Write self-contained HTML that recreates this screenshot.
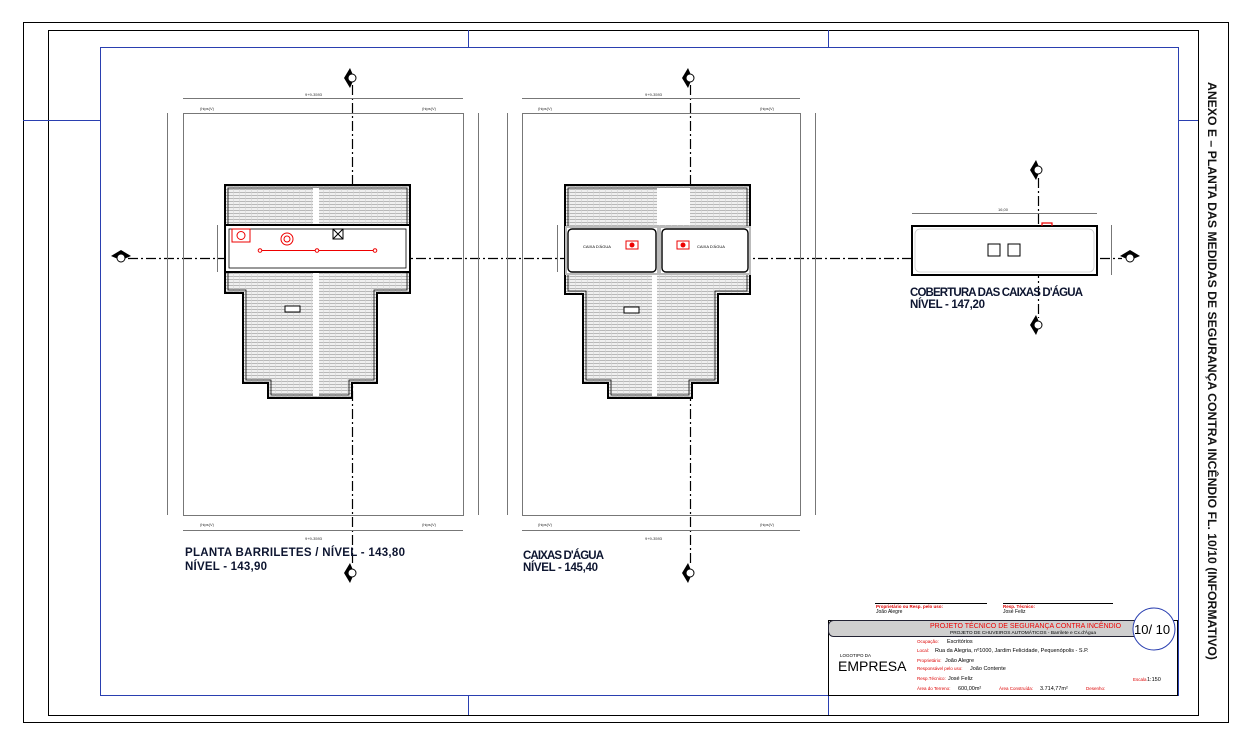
<!DOCTYPE html>
<html><head><meta charset="utf-8"><style>
html,body{margin:0;padding:0;background:#fff}
svg{display:block}
text{font-family:"Liberation Sans",Arial,sans-serif}
</style></head><body>
<svg width="1247" height="746" viewBox="0 0 1247 746" xmlns="http://www.w3.org/2000/svg">
<defs>
<pattern id="h" width="6" height="3" patternUnits="userSpaceOnUse">
<rect width="6" height="3" fill="#f0f0f0"/>
<line x1="0" y1="0.5" x2="6" y2="0.5" stroke="#b8b8b8" stroke-width="1"/>
<line x1="5.5" y1="0" x2="5.5" y2="3" stroke="#d4d4d4" stroke-width="0.6"/>
</pattern>
<g id="sm"><path d="M0,-10 L-6,0 L0,10 L3,3 L3,-3 Z" fill="#000"/><circle cx="2" cy="0" r="4" fill="#fff" stroke="#000" stroke-width="1"/></g>
<g id="smh"><path d="M-10,0 L0,-6 L10,0 L3,3 L-3,3 Z" fill="#000"/><circle cx="0" cy="2" r="4" fill="#fff" stroke="#000" stroke-width="1"/></g>
</defs>
<rect width="1247" height="746" fill="#fff"/>
<rect x="23.5" y="22.5" width="1205" height="700" fill="none" stroke="#000" stroke-width="1"/>
<rect x="48.5" y="30.5" width="1150" height="685" fill="none" stroke="#000" stroke-width="1"/>
<rect x="100.5" y="47.5" width="1078" height="648" fill="none" stroke="#2a3fb0" stroke-width="1"/>
<g stroke="#2a3fb0" stroke-width="1">
<line x1="468.5" y1="30" x2="468.5" y2="47"/><line x1="828.5" y1="30" x2="828.5" y2="47"/>
<line x1="468.5" y1="695" x2="468.5" y2="715"/><line x1="828.5" y1="695" x2="828.5" y2="715"/>
<line x1="23" y1="120.5" x2="100" y2="120.5"/><line x1="1178" y1="120.5" x2="1198" y2="120.5"/>
</g>
<text transform="translate(1208,82) rotate(90)" font-size="12" font-weight="bold" fill="#111" textLength="578" lengthAdjust="spacingAndGlyphs">ANEXO E – PLANTA DAS MEDIDAS DE SEGURANÇA CONTRA INCÊNDIO FL. 10/10  (INFORMATIVO)</text>

<g stroke="#000" stroke-width="1.2" stroke-dasharray="10,3,2,3" fill="none">
<line x1="352.5" y1="85" x2="352.5" y2="566"/>
<line x1="690.5" y1="85" x2="690.5" y2="566"/>
<line x1="1038.5" y1="178" x2="1038.5" y2="318"/>
<line x1="128" y1="258.5" x2="1122" y2="258.5"/>
</g>
<use href="#sm" x="350" y="78"/><use href="#sm" x="350" y="573"/>
<use href="#sm" x="688" y="78"/><use href="#sm" x="688" y="573"/>
<use href="#sm" x="1036" y="170"/><use href="#sm" x="1036" y="325"/>
<use href="#smh" x="121" y="256"/><use href="#smh" x="1130" y="256"/>

<g fill="none" stroke="#777" stroke-width="1">
<rect x="183.5" y="113.5" width="280" height="402"/>
<line x1="183" y1="98.5" x2="463" y2="98.5"/><line x1="183" y1="530.5" x2="463" y2="530.5"/>
<line x1="167.5" y1="113" x2="167.5" y2="515"/><line x1="478.5" y1="113" x2="478.5" y2="515"/>
<rect x="522.5" y="113.5" width="278" height="402"/>
<line x1="522" y1="98.5" x2="800" y2="98.5"/><line x1="522" y1="530.5" x2="800" y2="530.5"/>
<line x1="507.5" y1="113" x2="507.5" y2="515"/><line x1="815.5" y1="113" x2="815.5" y2="515"/>
<line x1="912" y1="213.5" x2="1097" y2="213.5"/><line x1="1111.5" y1="225" x2="1111.5" y2="275"/>
<line x1="217.5" y1="225" x2="217.5" y2="272"/><line x1="557.5" y1="225" x2="557.5" y2="272"/>
</g>
<g font-size="4" fill="#333">
<text x="305" y="96">9+9-3593</text><text x="200" y="110">(hips(V)</text><text x="422" y="110">(hips(V)</text>
<text x="200" y="526">(hips(V)</text><text x="422" y="526">(hips(V)</text><text x="305" y="540">9+9-3593</text>
<text x="645" y="96">9+9-3593</text><text x="538" y="110">(hips(V)</text><text x="760" y="110">(hips(V)</text>
<text x="538" y="526">(hips(V)</text><text x="645" y="540">9+9-3593</text><text x="760" y="526">(hips(V)</text>
<text x="998" y="211">16,00</text>
</g>

<path d="M225,185 H410 V293 H377 V383 H352 V398 H268 V383 H243 V293 H225 Z" fill="url(#h)" stroke="#000" stroke-width="2"/>
<path d="M228,188 H407 V290 H374 V380 H349 V395 H271 V380 H246 V290 H228 Z" fill="none" stroke="#000" stroke-width="0.8"/>
<rect x="313" y="188" width="6" height="37" fill="#fff"/>
<rect x="313" y="272" width="6" height="124" fill="#fff"/>
<rect x="225" y="225" width="185" height="47" fill="#fff" stroke="#000" stroke-width="2"/>
<rect x="229" y="229" width="177" height="39" fill="none" stroke="#000" stroke-width="0.8"/>
<rect x="285" y="306" width="15" height="6" fill="#fff" stroke="#000"/>
<rect x="232" y="229" width="18" height="13" fill="none" stroke="#e00" stroke-width="1"/>
<circle cx="241" cy="235.5" r="4" fill="none" stroke="#e00"/>
<circle cx="287" cy="239" r="6" fill="none" stroke="#e00"/><circle cx="287" cy="239" r="3" fill="none" stroke="#e00"/>
<rect x="333" y="229" width="10" height="10" fill="none" stroke="#000"/>
<path d="M333,229 L343,239 M343,229 L333,239" stroke="#000"/>
<line x1="260" y1="250.5" x2="375" y2="250.5" stroke="#e00" stroke-width="1"/>
<circle cx="260" cy="250.5" r="1.8" fill="#fff" stroke="#e00"/><circle cx="317" cy="250.5" r="1.8" fill="#fff" stroke="#e00"/><circle cx="375" cy="250.5" r="1.8" fill="#fff" stroke="#e00"/>

<path d="M565,185 H750 V294 H718 V383 H692 V398 H608 V383 H583 V294 H565 Z" fill="url(#h)" stroke="#000" stroke-width="2"/>
<path d="M568,188 H747 V291 H715 V380 H689 V395 H611 V380 H586 V291 H568 Z" fill="none" stroke="#000" stroke-width="0.8"/>
<rect x="657" y="188" width="33" height="37" fill="#fff"/>
<rect x="652" y="272" width="5" height="124" fill="#fff"/>
<rect x="566" y="227" width="92" height="47" fill="#fff" stroke="#bbb" stroke-width="2"/>
<rect x="660" y="227" width="90" height="47" fill="#fff" stroke="#bbb" stroke-width="2"/>
<rect x="568" y="229" width="88" height="43" rx="4" fill="#fff" stroke="#000" stroke-width="1.4"/>
<rect x="662" y="229" width="86" height="43" rx="4" fill="#fff" stroke="#000" stroke-width="1.4"/>
<rect x="624" y="307" width="15" height="6" fill="#fff" stroke="#000"/>
<rect x="626" y="241" width="12" height="8" fill="none" stroke="#e00"/><circle cx="632" cy="245" r="2.5" fill="#e00"/>
<rect x="677" y="241" width="12" height="8" fill="none" stroke="#e00"/><circle cx="683" cy="245" r="2.5" fill="#e00"/>
<g font-size="4" fill="#000"><text x="583" y="248">CAIXA  D'ÁGUA</text><text x="697" y="248">CAIXA  D'ÁGUA</text></g>

<rect x="912" y="226" width="185" height="49" fill="#fff" stroke="#000" stroke-width="2"/>
<rect x="915" y="229" width="179" height="43" rx="5" fill="none" stroke="#ccc" stroke-width="0.8"/>
<rect x="988" y="244" width="12" height="12" fill="none" stroke="#000"/>
<rect x="1008" y="244" width="12" height="12" fill="none" stroke="#000"/>
<path d="M1042,226 V223 H1052 V226" fill="none" stroke="#e00" stroke-width="1.2"/>

<g font-weight="bold" font-size="11.5" fill="#0d1530" lengthAdjust="spacingAndGlyphs">
<text x="185" y="556" textLength="220">PLANTA BARRILETES / NÍVEL - 143,80</text>
<text x="185" y="570" textLength="82">NÍVEL - 143,90</text>
<text x="523" y="559" textLength="81">CAIXAS D'ÁGUA</text>
<text x="523" y="571" textLength="75">NÍVEL - 145,40</text>
<text x="910" y="296" textLength="173">COBERTURA DAS CAIXAS D'ÁGUA</text>
<text x="910" y="308" textLength="75">NÍVEL - 147,20</text>
</g>

<line x1="875" y1="603.5" x2="987" y2="603.5" stroke="#000"/>
<line x1="1003" y1="603.5" x2="1113" y2="603.5" stroke="#000"/>
<text x="876" y="608" font-size="4.5" fill="#d00" font-weight="bold">Proprietário ou Resp. pelo uso:</text>
<text x="876" y="613" font-size="5" fill="#000">João Alegre</text>
<text x="1003" y="608" font-size="4.5" fill="#d00" font-weight="bold">Resp. Técnico:</text>
<text x="1003" y="613" font-size="5" fill="#000">José Feliz</text>
<rect x="828.5" y="620.5" width="349" height="75" fill="#fff" stroke="#000"/>
<rect x="828.5" y="620.5" width="330" height="16" rx="5" fill="#cfcfcf" stroke="#223" stroke-width="1"/>
<text x="930" y="628" font-size="7" fill="#e00">PROJETO TÉCNICO DE SEGURANÇA CONTRA INCÊNDIO</text>
<text x="950" y="634" font-size="4.8" fill="#000">PROJETO DE CHUVEIROS AUTOMÁTICOS - Barrilete e Cx.d'Água</text>
<circle cx="1154" cy="629" r="21" fill="#fff" stroke="#2a3fb0" stroke-width="1"/>
<text x="1134" y="634" font-size="13" fill="#000">10/ 10</text>
<text x="840" y="657" font-size="4.5" fill="#000">LOGOTIPO DA</text>
<text x="838" y="671" font-size="14" fill="#000">EMPRESA</text>
<g font-size="5.5">
<text x="917" y="643" fill="#d00" font-size="4.5">Ocupação:</text><text x="947" y="643">Escritórios</text>
<text x="917" y="652" fill="#d00" font-size="4.5">Local:</text><text x="935" y="652">Rua da Alegria, nº1000, Jardim Felicidade, Pequenópolis - S.P.</text>
<text x="917" y="662" fill="#d00" font-size="4.5">Proprietário:</text><text x="945" y="662">João Alegre</text>
<text x="917" y="670" fill="#d00" font-size="4.5">Responsável pelo uso:</text><text x="970" y="670">João Contente</text>
<text x="917" y="680" fill="#d00" font-size="4.5">Resp.Técnico:</text><text x="948" y="680">José Feliz</text>
<text x="1133" y="681" fill="#d00" font-size="4.5">Escala</text><text x="1147" y="681">1:150</text>
<text x="917" y="690" fill="#d00" font-size="4.5">Área do Terreno:</text><text x="958" y="690">600,00m²</text>
<text x="999" y="690" fill="#d00" font-size="4.5">Área Construída:</text><text x="1040" y="690">3.714,77m²</text>
<text x="1086" y="690" fill="#d00" font-size="4.5">Desenho:</text>
</g>
</svg>
</body></html>
